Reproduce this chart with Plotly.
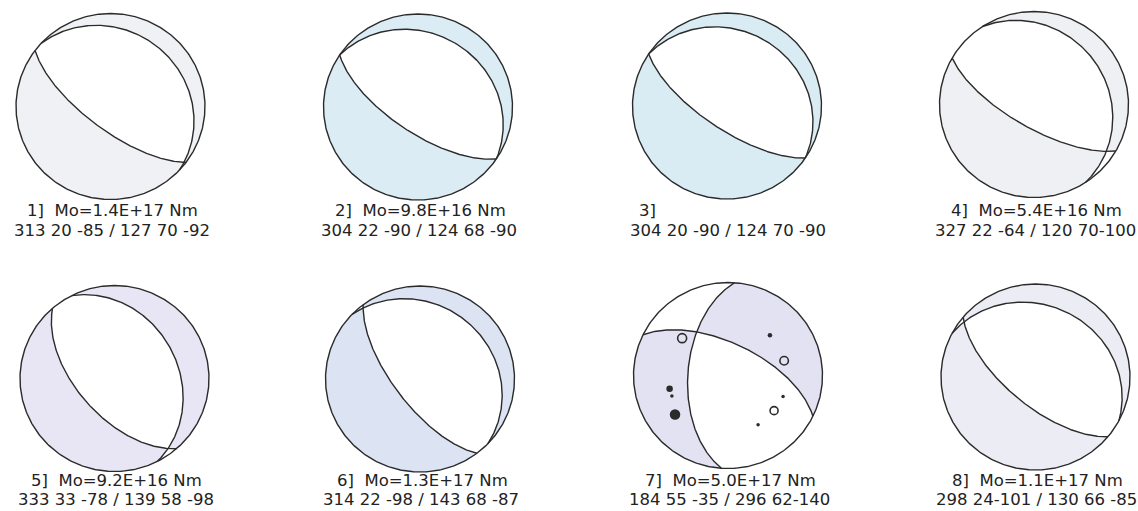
import numpy as np
import plotly.graph_objects as go

# ---- focal mechanism catalogue (strike / dip / rake of both nodal planes) ----
event_no = [1, 2, 3, 4, 5, 6, 7, 8]
moment = ["1.4E+17", "9.8E+16", "", "5.4E+16", "9.2E+16", "1.3E+17", "5.0E+17", "1.1E+17"]
strike1 = [313, 304, 304, 327, 333, 314, 184, 298]
dip1 = [20, 22, 20, 22, 33, 22, 55, 24]
rake1 = [-85, -90, -90, -64, -78, -98, -35, -101]
strike2 = [127, 124, 124, 120, 139, 143, 296, 130]
dip2 = [70, 68, 70, 70, 58, 68, 62, 66]
rake2 = [-92, -90, -90, -100, -98, -87, -140, -85]

# first-motion readings plotted on event 7 (azimuth deg, projected radius 0..1)
pol_azimuth = [309.6, 45.7, 75.0, 111.2, 127.8, 149.0, 257.1, 249.7, 233.2]
pol_radius = [0.63, 0.62, 0.615, 0.625, 0.617, 0.618, 0.634, 0.633, 0.70]
pol_filled = [False, True, False, True, False, True, True, True, True]
pol_size = [9, 4.5, 8.5, 3.5, 8, 3.5, 6.5, 3.5, 10.5]

# ---- styling / panel placement (pixel frame of the page) ----
shade = ["#eff1f4", "#dbecf4", "#daecf3", "#eff0f3", "#e8e6f4", "#dce4f3", "#e3e2f2", "#ececf4"]
ink = "#2b2b2b"
cx = [110.5, 418.0, 727.0, 1034.0, 114.5, 420.0, 728.0, 1035.5]
cy = [106.5, 107.0, 106.0, 104.5, 378.5, 379.0, 375.5, 377.0]
RX, RY = 94.5, 93.0
W, H = 1138, 511
FONT = dict(family="DejaVu Sans", size=16.5, color="#222")

D = np.pi / 180.0
SQ2 = np.sqrt(2.0)


def fault_normal(strike, dip):
    s, d = strike * D, dip * D
    return np.array([-np.sin(d) * np.sin(s), np.sin(d) * np.cos(s), -np.cos(d)])


def slip_vector(strike, dip, rake):
    s, d, l = strike * D, dip * D, rake * D
    return np.array([
        np.cos(l) * np.cos(s) + np.sin(l) * np.cos(d) * np.sin(s),
        np.cos(l) * np.sin(s) - np.sin(l) * np.cos(d) * np.cos(s),
        -np.sin(l) * np.sin(d),
    ])


def plane_trace(strike, dip, m=241):
    """Lower-hemisphere equal-area trace of a nodal plane."""
    a = np.linspace(0, np.pi, m)
    s, d = strike * D, dip * D
    sv = np.array([np.cos(s), np.sin(s), 0.0])
    dv = np.array([np.cos(d) * np.cos(s + np.pi / 2), np.cos(d) * np.sin(s + np.pi / 2), np.sin(d)])
    v = np.outer(np.cos(a), sv) + np.outer(np.sin(a), dv)
    plunge = np.arcsin(np.clip(v[:, 2], -1, 1))
    az = np.arctan2(v[:, 1], v[:, 0])
    r = SQ2 * np.sin((np.pi / 2 - plunge) / 2)
    return az, r


def crossing_radius(n, phi):
    """Projected radius where a plane crosses the radial line at azimuth phi (1 if it does not)."""
    m = n if n[2] >= 0 else -n
    nh = m[0] * np.cos(phi) + m[1] * np.sin(phi)
    t = np.clip(np.arctan2(-nh, m[2]), 0.0, np.pi / 2)
    return SQ2 * np.sin((np.pi / 2 - t) / 2)


def ray(phi, r):
    t = np.pi / 2 - 2 * np.arcsin(r / SQ2)
    return np.array([np.cos(t) * np.cos(phi), np.cos(t) * np.sin(phi), np.sin(t)])


def to_xy(i, az, r):
    return cx[i] + RX * r * np.sin(az), cy[i] - RY * r * np.cos(az)


fig = go.Figure()
nslice = 720
phis = np.linspace(0, 2 * np.pi, nslice + 1)

for i in range(len(event_no)):
    n1 = fault_normal(strike1[i], dip1[i])
    u = slip_vector(strike1[i], dip1[i], rake1[i])
    n2 = fault_normal(strike2[i], dip2[i])
    if n2 @ u < 0:
        n2 = -n2
    rfun = {
        "c": lambda p: 0.0 * np.asarray(p, dtype=float),
        "e": lambda p: 1.0 + 0.0 * np.asarray(p, dtype=float),
        "p1": lambda p, n=n1: crossing_radius(n, np.asarray(p, dtype=float)),
        "p2": lambda p, n=n2: crossing_radius(n, np.asarray(p, dtype=float)),
    }

    # compressional radial intervals per azimuth slice
    slice_keys = []
    for k in range(nslice):
        pm = 0.5 * (phis[k] + phis[k + 1])
        bps = sorted([(float(rfun[key](pm)), key) for key in ("c", "p1", "p2", "e")])
        keys = set()
        for (ra, ka), (rb, kb) in zip(bps[:-1], bps[1:]):
            if rb - ra < 1e-9:
                continue
            g = ray(pm, 0.5 * (ra + rb))
            if (n1 @ g) * (n2 @ g) > 0:
                keys.add((ka, kb))
        slice_keys.append(keys)

    # group consecutive slices sharing the same bounding curves into polygons
    runs = []
    open_runs = {}
    for k, keys in enumerate(slice_keys):
        for key in list(open_runs):
            if key not in keys:
                runs.append((key, open_runs.pop(key), k - 1))
        for key in keys:
            if key not in open_runs:
                open_runs[key] = k
    for key, k0 in open_runs.items():
        runs.append((key, k0, nslice - 1))

    xs, ys = [], []
    for (ka, kb), k0, k1 in runs:
        ph = phis[k0:k1 + 2]
        inner = rfun[ka](ph)
        outer = rfun[kb](ph)
        az = np.concatenate([ph, ph[::-1], ph[:1]])
        rr = np.concatenate([inner, outer[::-1], inner[:1]])
        x, y = to_xy(i, az, rr)
        xs += [round(float(v), 2) for v in x] + [None]
        ys += [round(float(v), 2) for v in y] + [None]
    fig.add_trace(go.Scatter(x=xs, y=ys, mode="lines", fill="toself", fillcolor=shade[i],
                             line=dict(width=0.8, color=shade[i]), hoverinfo="skip", showlegend=False))

    # nodal planes
    for st, dp in ((strike1[i], dip1[i]), (strike2[i], dip2[i])):
        az, r = plane_trace(st, dp)
        x, y = to_xy(i, az, r)
        fig.add_trace(go.Scatter(x=x, y=y, mode="lines", line=dict(color=ink, width=1.4),
                                 hoverinfo="skip", showlegend=False))
    # primitive circle
    a = np.linspace(0, 2 * np.pi, 361)
    x, y = to_xy(i, a, np.ones_like(a))
    fig.add_trace(go.Scatter(x=x, y=y, mode="lines", line=dict(color=ink, width=1.4),
                             hoverinfo="skip", showlegend=False))

    # captions
    head = f"{event_no[i]}]  Mo={moment[i]} Nm" if moment[i] else f"{event_no[i]}]"
    planes = []
    for st, dp, rk in ((strike1[i], dip1[i], rake1[i]), (strike2[i], dip2[i], rake2[i])):
        sep = " " if abs(rk) < 100 else ""
        planes.append(f"{st} {dp}{sep}{rk}")
    sub = " / ".join(planes)
    row_top = cy[i] < 250
    y1 = 210.5 if row_top else 480
    y2 = 230 if row_top else 499.5
    if moment[i]:
        fig.add_annotation(x=cx[i] + 2, y=y1, text=head, showarrow=False, xanchor="center",
                           yanchor="middle", borderpad=0, font=FONT)
    else:
        fig.add_annotation(x=cx[i] - 89, y=y1, text=head, showarrow=False, xanchor="left",
                           yanchor="middle", borderpad=0, font=FONT)
    fig.add_annotation(x=cx[i] + 1, y=y2, text=sub, showarrow=False, xanchor="center",
                       yanchor="middle", borderpad=0, font=FONT)

# first-motion polarity symbols on event 7
k7 = event_no.index(7)
paz = np.array(pol_azimuth) * D
px, py = to_xy(k7, paz, np.array(pol_radius))
for j in range(len(pol_azimuth)):
    if pol_filled[j]:
        mk = dict(symbol="circle", size=pol_size[j], color=ink, line=dict(width=0))
    else:
        mk = dict(symbol="circle-open", size=pol_size[j], color=ink, line=dict(width=1.6))
    fig.add_trace(go.Scatter(x=[px[j]], y=[py[j]], mode="markers", marker=mk,
                             hoverinfo="skip", showlegend=False))

fig.update_layout(
    width=W, height=H, margin=dict(l=0, r=0, t=0, b=0),
    paper_bgcolor="white", plot_bgcolor="white",
    xaxis=dict(range=[0, W], visible=False, fixedrange=True),
    yaxis=dict(range=[H, 0], visible=False, fixedrange=True),
)
fig.write_html("out.html")
